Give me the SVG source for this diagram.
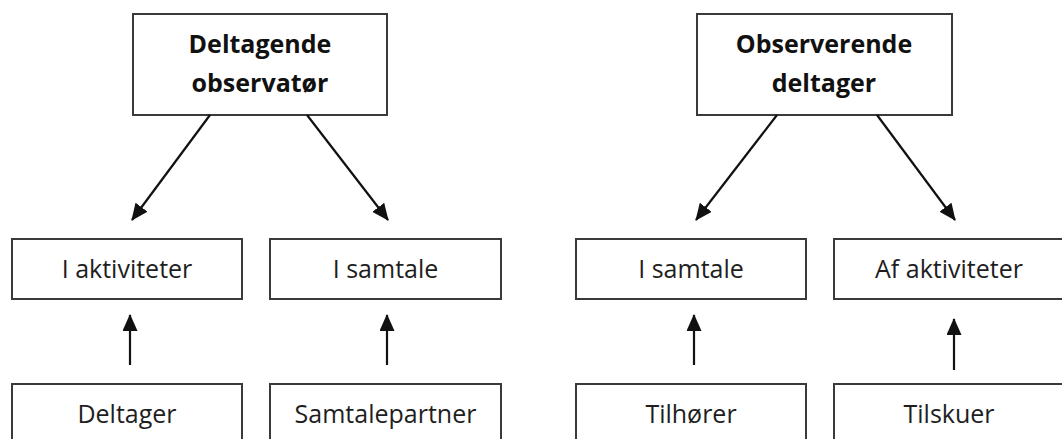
<svg xmlns="http://www.w3.org/2000/svg" width="1062" height="439" viewBox="0 0 1062 439">
<style>
.box{fill:#fff;stroke:#3a3a3a;stroke-width:2}
.t{font-family:"Open Sans","Liberation Sans",sans-serif;font-size:25px;fill:#1e1e1e;text-anchor:middle}
.b{font-weight:bold;font-size:25px;fill:#111}
.c{stroke:#111;stroke-width:2.2;fill:none;marker-end:url(#ah)}
</style>
<defs>
<marker id="ah" markerUnits="userSpaceOnUse" markerWidth="17" markerHeight="15" refX="16" refY="7.5" orient="auto">
<path d="M0,0 L17,7.5 L0,15 Z" fill="#111"/>
</marker>
</defs>
<rect width="1062" height="439" fill="#fff"/>
<g id="n-deltagende">
<rect class="box" x="133" y="14" width="254" height="101"/>
<text class="t b" x="260" y="53">Deltagende</text>
<text class="t b" x="260" y="92">observatør</text>
</g>
<g id="n-observerende">
<rect class="box" x="697" y="14" width="255" height="101"/>
<text class="t b" x="824" y="53">Observerende</text>
<text class="t b" x="824" y="92">deltager</text>
</g>
<g id="n-i-aktiviteter">
<rect class="box" x="12" y="239" width="230" height="60"/>
<text class="t" x="127" y="278">I aktiviteter</text>
</g>
<g id="n-i-samtale-1">
<rect class="box" x="270" y="239" width="231" height="60"/>
<text class="t" x="385.5" y="278">I samtale</text>
</g>
<g id="n-i-samtale-2">
<rect class="box" x="576" y="239" width="230" height="60"/>
<text class="t" x="691" y="278">I samtale</text>
</g>
<g id="n-af-aktiviteter">
<rect class="box" x="834" y="239" width="240" height="60"/>
<text class="t" x="949" y="278">Af aktiviteter</text>
</g>
<g id="n-deltager">
<rect class="box" x="12" y="384" width="230" height="70"/>
<text class="t" x="127" y="423">Deltager</text>
</g>
<g id="n-samtalepartner">
<rect class="box" x="270" y="384" width="231" height="70"/>
<text class="t" x="385.5" y="423">Samtalepartner</text>
</g>
<g id="n-tilhorer">
<rect class="box" x="576" y="384" width="230" height="70"/>
<text class="t" x="691" y="423">Tilhører</text>
</g>
<g id="n-tilskuer">
<rect class="box" x="834" y="384" width="240" height="70"/>
<text class="t" x="949" y="423">Tilskuer</text>
</g>
<g id="connectors">
<line class="c" x1="210" y1="115" x2="132" y2="220"/>
<line class="c" x1="307" y1="115" x2="388" y2="220"/>
<line class="c" x1="777" y1="115" x2="696" y2="220"/>
<line class="c" x1="877" y1="115" x2="955" y2="220"/>
<line class="c" x1="130" y1="365" x2="130" y2="315"/>
<line class="c" x1="387" y1="365" x2="387" y2="315"/>
<line class="c" x1="694" y1="365" x2="694" y2="315"/>
<line class="c" x1="954" y1="370" x2="954" y2="319"/>
</g>
</svg>
